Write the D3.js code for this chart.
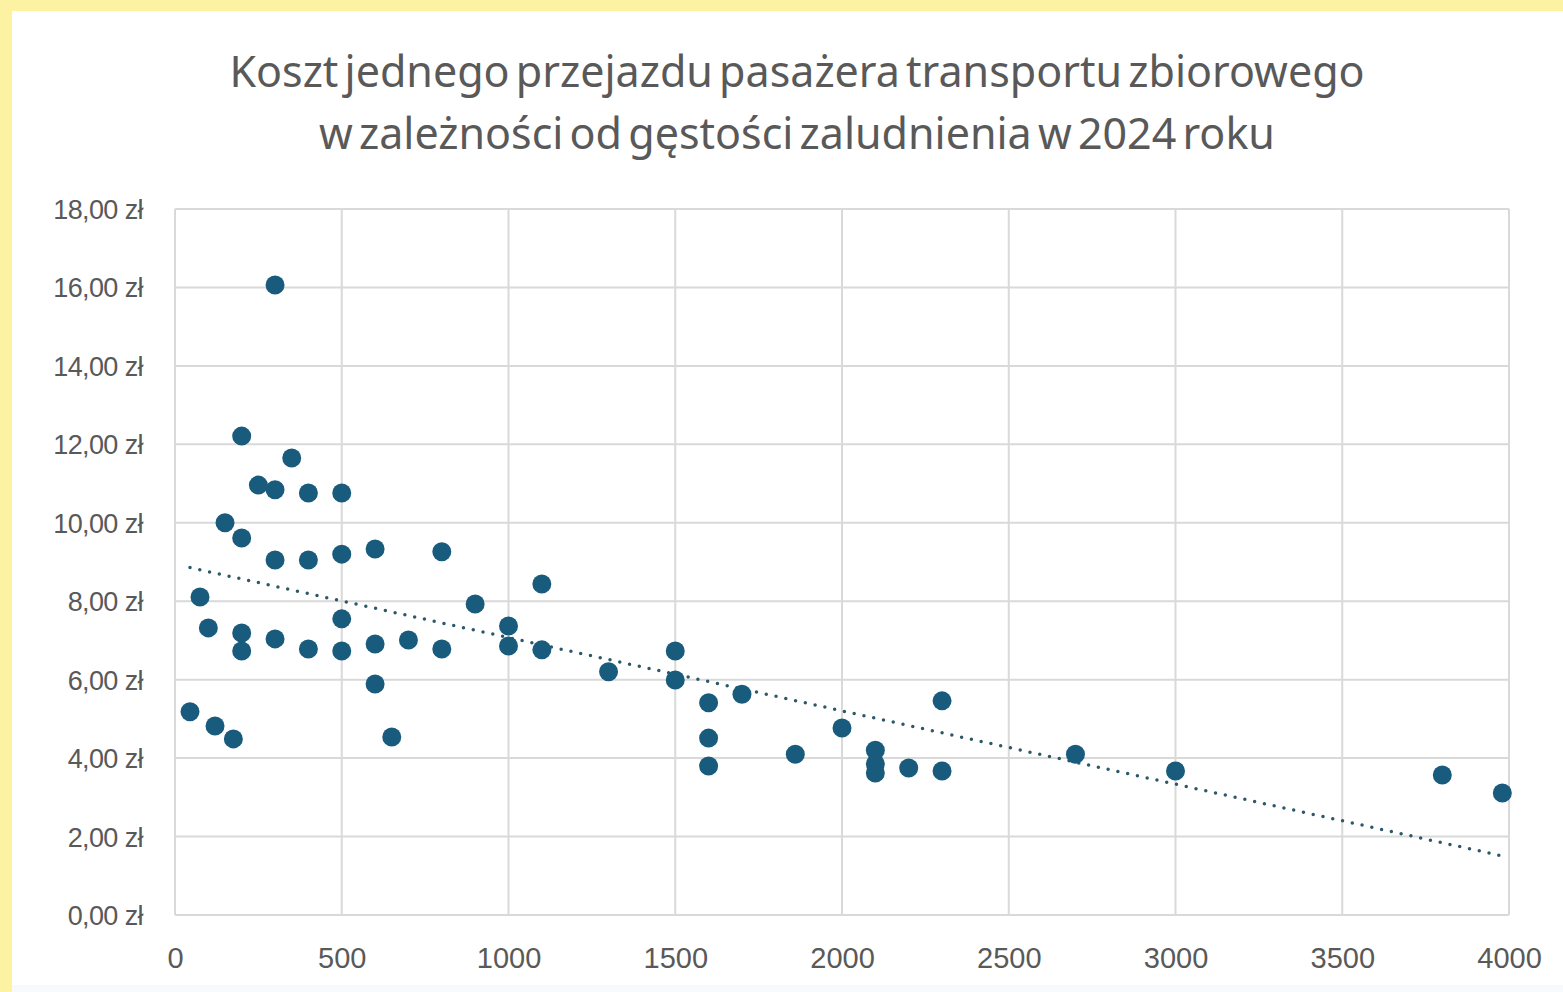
<!DOCTYPE html>
<html>
<head>
<meta charset="utf-8">
<script src="https://cdn.jsdelivr.net/npm/d3@7"></script>
<style>
  html, body { margin: 0; padding: 0; background: #fdf1a2; }
  #chart { width: 1563px; height: 992px; }
</style>
</head>
<body>
<div id="chart"></div>
<script>
// density of population (people / km2)
const density = [
    45, 75, 100, 120, 150, 175, 200, 200, 200, 200,
    250, 300, 300, 300, 300, 350, 400, 400, 400, 500,
    500, 500, 500, 600, 600, 600, 650, 700, 800, 800,
    900, 1000, 1000, 1100, 1100, 1300, 1500, 1500, 1600, 1600,
    1600, 1700, 1860, 2000, 2100, 2100, 2100, 2200, 2300, 2300,
    2700, 3000, 3800, 3980
];
// cost of one ride (zl)
const cost = [
    5.18, 8.11, 7.32, 4.82, 10.0, 4.49, 12.21, 9.61, 7.19, 6.73,
    10.96, 16.06, 10.84, 9.05, 7.04, 11.65, 10.76, 9.05, 6.78, 10.76,
    9.20, 7.55, 6.73, 9.33, 6.91, 5.89, 4.54, 7.01, 9.26, 6.78,
    7.93, 7.37, 6.86, 8.44, 6.76, 6.20, 6.73, 5.99, 5.41, 4.51,
    3.80, 5.63, 4.10, 4.77, 4.20, 3.85, 3.62, 3.75, 5.46, 3.67,
    4.10, 3.67, 3.57, 3.11
];
const xTicks = [0, 500, 1000, 1500, 2000, 2500, 3000, 3500, 4000];
const yTicks = [0, 2, 4, 6, 8, 10, 12, 14, 16, 18];
const titleLines = [
    "Koszt jednego przejazdu pasażera transportu zbiorowego",
    "w zależności od gęstości zaludnienia w 2024 roku"
];

const W = 1563, H = 992;
const plot = { left: 175, right: 1509, top: 209, bottom: 915 };

const COLORS = {
    bg: "#ffffff",
    grid: "#d9d9d9",
    text: "#595959",
    dot: "#195b7c",
    trend: "#2c5868"
};

const svg = d3.select("#chart")
    .append("svg")
    .attr("width", W)
    .attr("height", H);

// yellow frame + white card
svg.append("rect")
    .attr("x", 12).attr("y", 11)
    .attr("width", W - 12).attr("height", 974)
    .attr("fill", COLORS.bg);
svg.append("rect")
    .attr("x", 12).attr("y", 985)
    .attr("width", W - 12).attr("height", H - 985)
    .attr("fill", "#f6fafc");

const x = d3.scaleLinear().domain([0, 4000]).range([plot.left, plot.right]);
const y = d3.scaleLinear().domain([0, 18]).range([plot.bottom, plot.top]);

// title
svg.append("text")
    .attr("text-anchor", "middle")
    .style("font-family", "'Noto Sans', sans-serif")
    .style("font-size", "43px")
    .style("word-spacing", "-5px")
    .attr("fill", COLORS.text)
    .selectAll("tspan")
    .data(titleLines)
    .enter()
    .append("tspan")
    .attr("x", 797)
    .attr("y", (d, i) => 87 + i * 62)
    .text(d => d);

// grid
svg.append("g")
    .selectAll("line")
    .data(xTicks)
    .enter()
    .append("line")
    .attr("x1", d => x(d)).attr("x2", d => x(d))
    .attr("y1", plot.top).attr("y2", plot.bottom)
    .attr("stroke", COLORS.grid)
    .attr("stroke-width", 2);

svg.append("g")
    .selectAll("line")
    .data(yTicks)
    .enter()
    .append("line")
    .attr("x1", plot.left).attr("x2", plot.right)
    .attr("y1", d => y(d)).attr("y2", d => y(d))
    .attr("stroke", COLORS.grid)
    .attr("stroke-width", 2);

// axes labels
const fmt = d => d3.format(".2f")(d).replace(".", ",") + " zł";

const yAxis = svg.append("g")
    .attr("transform", `translate(${plot.left - 32},0)`)
    .call(d3.axisLeft(y).tickValues(yTicks).tickFormat(fmt).tickSize(0).tickPadding(0));
const xAxis = svg.append("g")
    .attr("transform", `translate(0,${plot.bottom + 43})`)
    .call(d3.axisBottom(x).tickValues(xTicks).tickFormat(d3.format("d")).tickSize(0).tickPadding(0));

[yAxis, xAxis].forEach(a => {
    a.select(".domain").remove();
    a.selectAll("text")
        .attr("fill", COLORS.text)
        .style("font-family", "'Liberation Sans', Arial, sans-serif");
});
yAxis.selectAll("text")
    .attr("dy", "0.35em")
    .style("font-size", "27px")
    .style("letter-spacing", "-0.6px");
xAxis.selectAll("text")
    .attr("dy", "0.35em")
    .style("font-size", "29px");

// linear trend (least squares)
const mx = d3.mean(density), my = d3.mean(cost);
const slope = d3.sum(density, (d, i) => (d - mx) * (cost[i] - my)) /
              d3.sum(density, d => (d - mx) * (d - mx));
const intercept = my - slope * mx;
const xr = d3.extent(density);

svg.append("line")
    .attr("x1", x(xr[0])).attr("y1", y(intercept + slope * xr[0]))
    .attr("x2", x(xr[1])).attr("y2", y(intercept + slope * xr[1]))
    .attr("stroke", COLORS.trend)
    .attr("stroke-width", 3.5)
    .attr("stroke-linecap", "round")
    .attr("stroke-dasharray", "0 10");

// points
svg.append("g")
    .selectAll("circle")
    .data(density.map((d, i) => [d, cost[i]]))
    .enter()
    .append("circle")
    .attr("cx", d => x(d[0]))
    .attr("cy", d => y(d[1]))
    .attr("r", 9.5)
    .attr("fill", COLORS.dot);
</script>
</body>
</html>
